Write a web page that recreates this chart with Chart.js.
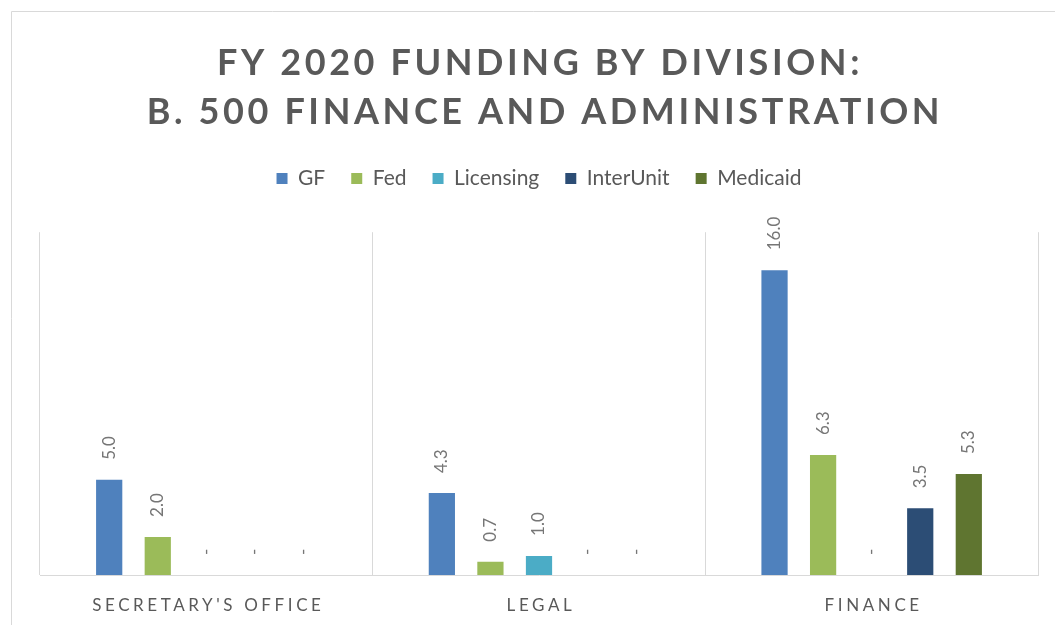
<!DOCTYPE html>
<html>
<head>
<meta charset="utf-8">
<script src="https://cdn.jsdelivr.net/npm/chart.js@4.4.1/dist/chart.umd.min.js"></script>
<style>
  html, body { margin: 0; padding: 0; background: #fff; }
  canvas { display: block; }
</style>
</head>
<body>
<canvas id="fundingChart" width="1055" height="625"></canvas>
<script>
// Data (millions)
const titleLines = ['FY 2020 FUNDING BY DIVISION:', 'B. 500 FINANCE AND ADMINISTRATION'];
const divisions = ["SECRETARY'S OFFICE", 'LEGAL', 'FINANCE'];
const gfValues = [5.0, 4.3, 16.0];
const fedValues = [2.0, 0.7, 6.3];
const licensingValues = [0, 1.0, 0];
const interUnitValues = [0, 0, 3.5];
const medicaidValues = [0, 0, 5.3];

const textColor = '#595959';
const lineColor = '#d9d9d9';
const fontFamily = 'Lato, "Open Sans", sans-serif';

// Frame + title drawn by hand so letter spacing can be applied
const framePlugin = {
    id: 'frame',
    beforeDraw(chart) {
        const ctx = chart.ctx;
        ctx.save();
        ctx.strokeStyle = lineColor;
        ctx.lineWidth = 1;
        ctx.beginPath();
        ctx.moveTo(11.5, chart.height);
        ctx.lineTo(11.5, 11.5);
        ctx.lineTo(chart.width, 11.5);
        ctx.stroke();
        ctx.restore();
    },
    afterDraw(chart) {
        const ctx = chart.ctx;
        const area = chart.chartArea;
        const cx = (area.left + area.right) / 2;
        ctx.save();
        ctx.fillStyle = textColor;
        ctx.textAlign = 'center';
        ctx.textBaseline = 'alphabetic';
        ctx.font = 'bold 36px ' + fontFamily;
        ctx.letterSpacing = '3.6px';
        ctx.fillText(titleLines[0], cx + 1, 75);
        ctx.fillText(titleLines[1], cx + 6, 124);

        // category labels with wide tracking
        const xScale = chart.scales.x;
        ctx.font = '17px ' + fontFamily;
        ctx.letterSpacing = '3.6px';
        divisions.forEach((name, i) => {
            ctx.fillText(name, xScale.getPixelForValue(i) + 2, 611);
        });
        ctx.restore();
    }
};

// Rotated value labels above each bar; zero shows as "-"
const valueLabels = {
    id: 'valueLabels',
    afterDatasetsDraw(chart) {
        const ctx = chart.ctx;
        ctx.save();
        ctx.fillStyle = '#767676';
        ctx.font = '17px ' + fontFamily;
        ctx.textAlign = 'left';
        ctx.textBaseline = 'middle';
        chart.data.datasets.forEach((ds, di) => {
            const meta = chart.getDatasetMeta(di);
            meta.data.forEach((bar, i) => {
                const v = ds.data[i];
                const text = v === 0 ? '-' : v.toFixed(1);
                ctx.save();
                ctx.translate(bar.x, bar.y - 20);
                ctx.rotate(-Math.PI / 2);
                ctx.fillText(text, 0, 0);
                ctx.restore();
            });
        });
        ctx.restore();
    }
};

const barStyle = { categoryPercentage: 0.73, barPercentage: 0.54 };

new Chart(document.getElementById('fundingChart'), {
    type: 'bar',
    data: {
        labels: divisions,
        datasets: [
            { label: 'GF', data: gfValues, backgroundColor: '#4f81bd', ...barStyle },
            { label: 'Fed', data: fedValues, backgroundColor: '#9bbb59', ...barStyle },
            { label: 'Licensing', data: licensingValues, backgroundColor: '#4bacc6', ...barStyle },
            { label: 'InterUnit', data: interUnitValues, backgroundColor: '#2c4d75', ...barStyle },
            { label: 'Medicaid', data: medicaidValues, backgroundColor: '#5f7530', ...barStyle }
        ]
    },
    options: {
        responsive: false,
        animation: false,
        devicePixelRatio: 1,
        layout: {
            padding: { top: 142, left: 40, right: 17, bottom: 50 }
        },
        plugins: {
            // empty title used only as a gap between legend and plot
            title: {
                display: true,
                text: ' ',
                weight: 500,
                font: { size: 1 },
                padding: { top: 0, bottom: 32 }
            },
            tooltip: { enabled: false },
            legend: {
                position: 'top',
                labels: {
                    boxWidth: 11,
                    boxHeight: 11,
                    padding: 26,
                    color: textColor,
                    font: { family: fontFamily, size: 21 }
                }
            }
        },
        scales: {
            x: {
                grid: { color: lineColor, drawTicks: false },
                border: { color: lineColor },
                ticks: { display: false }
            },
            y: {
                display: false,
                min: 0,
                max: 18
            }
        }
    },
    plugins: [framePlugin, valueLabels]
});
</script>
</body>
</html>
